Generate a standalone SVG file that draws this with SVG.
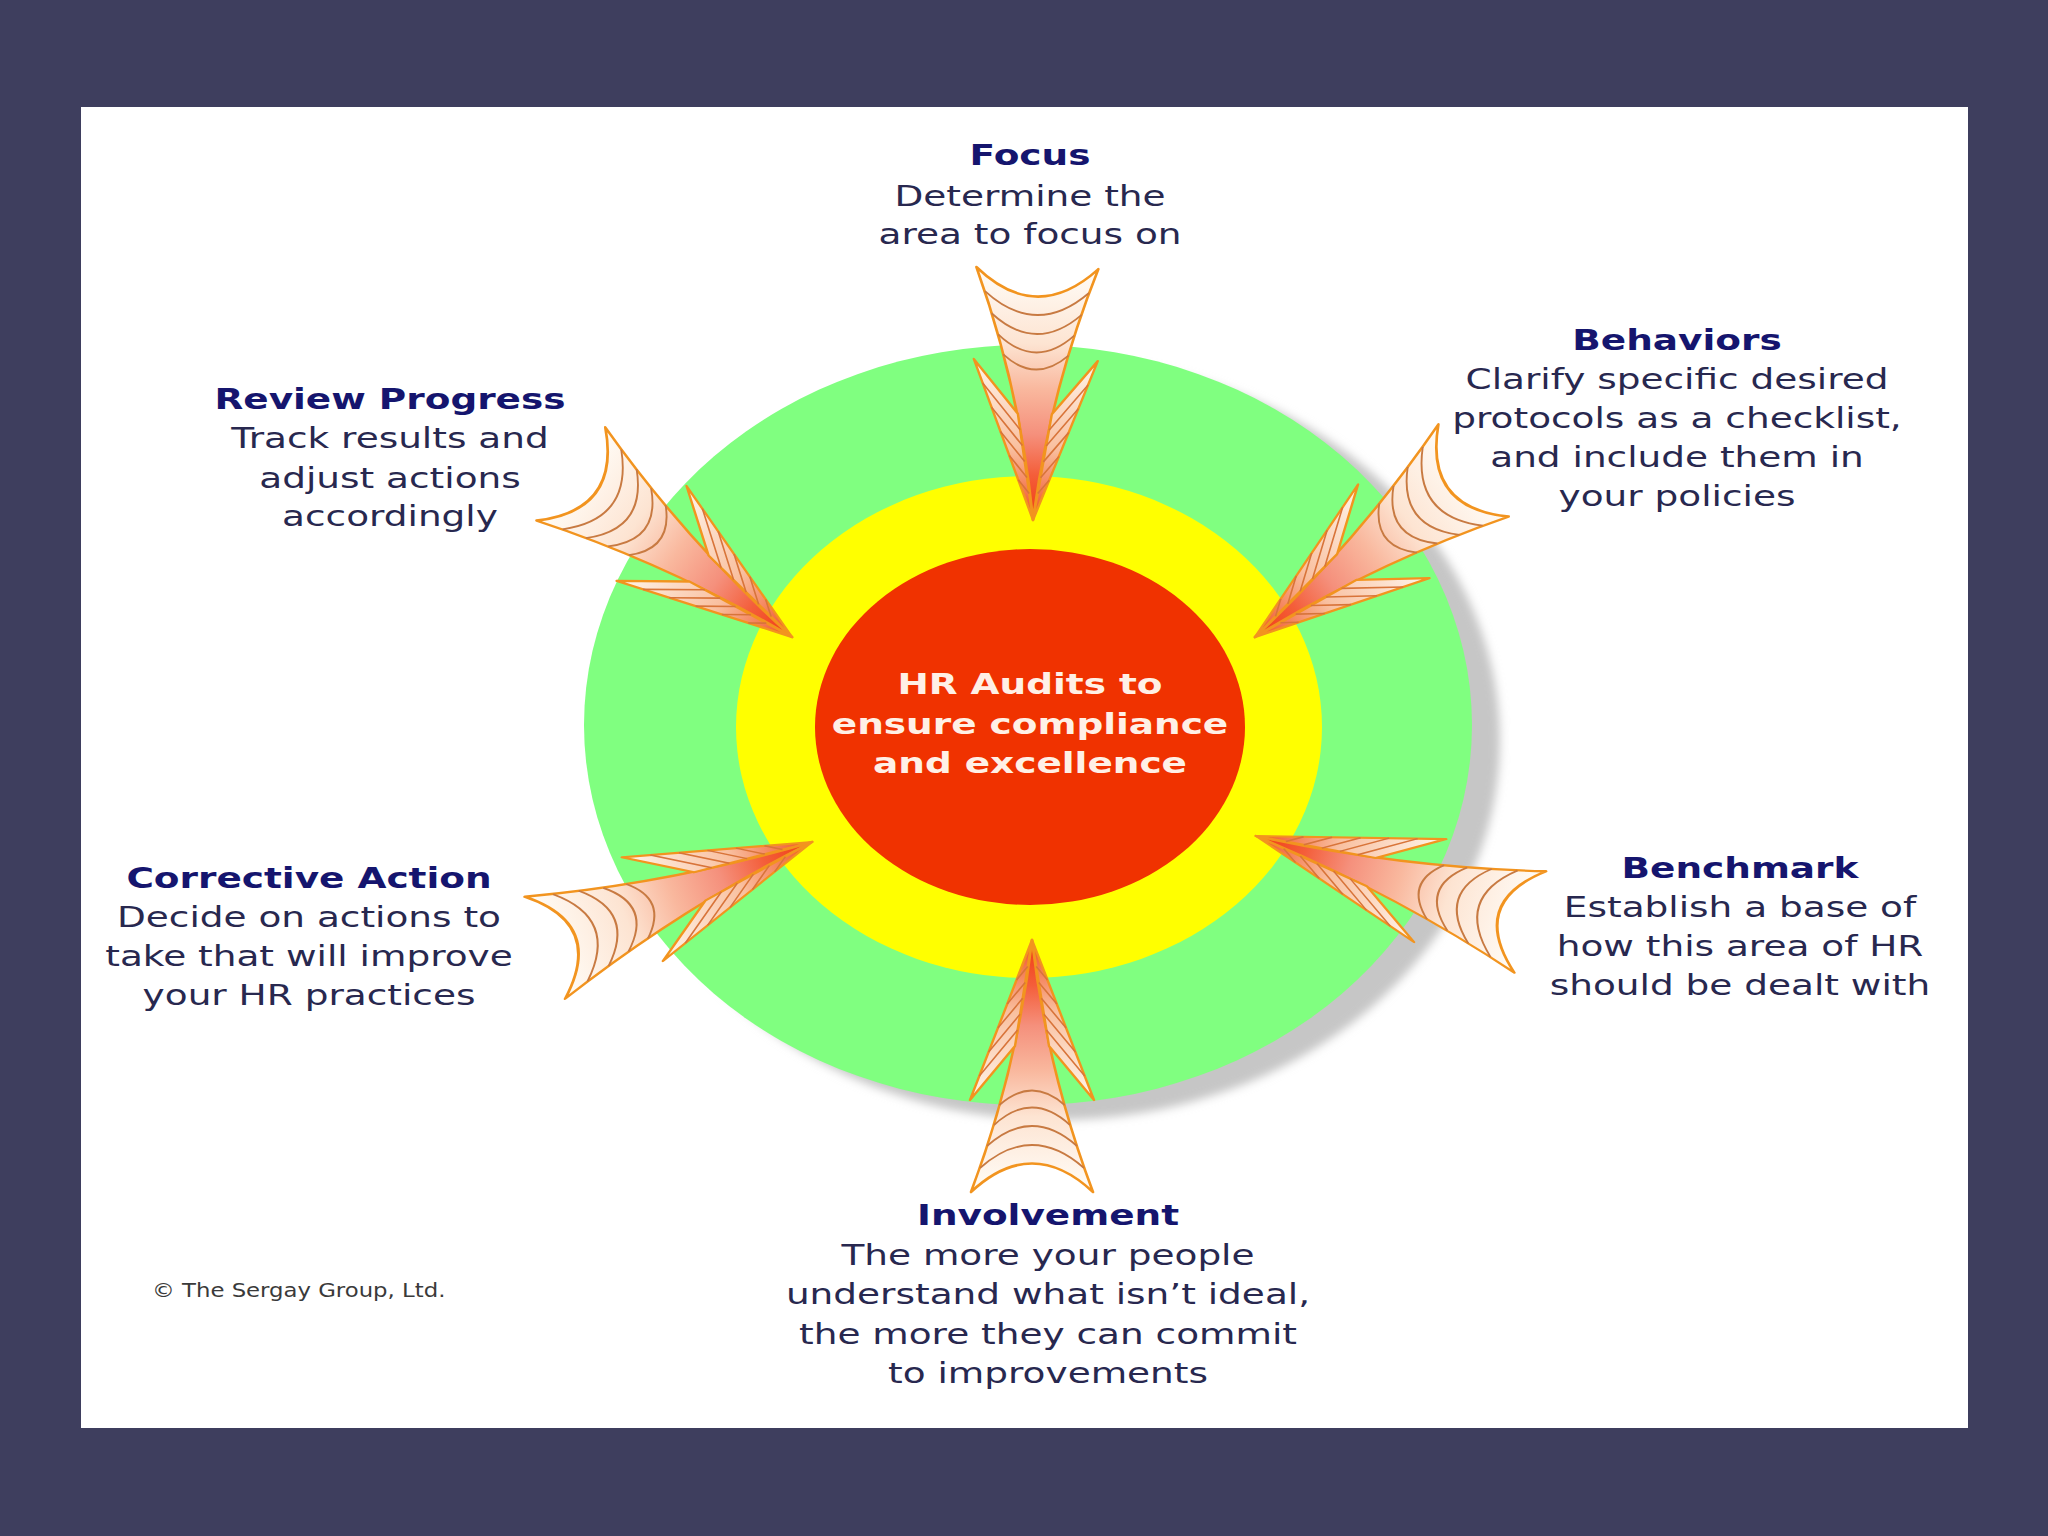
<svg xmlns="http://www.w3.org/2000/svg" xmlns:xlink="http://www.w3.org/1999/xlink" width="2048" height="1536" viewBox="0 0 2048 1536">
<style>
.t{font-family:"DejaVu Sans","Liberation Sans",sans-serif;font-size:29px;text-anchor:middle}
.h{font-weight:bold;fill:#15156e}
.b{fill:#28284f}
.c{font-weight:bold;fill:#fff0e6}
.cone{fill:url(#coneGrad);stroke:#f2941f;stroke-width:2.6;stroke-linejoin:round}
.wing{fill:url(#wingGrad);stroke:#f2941f;stroke-width:2.4;stroke-linejoin:round}
.arc{fill:none;stroke:#c87a42;stroke-width:1.8}
.stripe{fill:none;stroke:#d8743a;stroke-width:1.6}
</style>
<defs>
<filter id="blur" x="-10%" y="-10%" width="120%" height="120%"><feGaussianBlur stdDeviation="5"/></filter>
<linearGradient id="coneGrad" gradientUnits="userSpaceOnUse" x1="0" y1="-252" x2="0" y2="0">
<stop offset="0" stop-color="#fffdf8"/>
<stop offset="0.3" stop-color="#fde4d2"/>
<stop offset="0.48" stop-color="#f9b89e"/>
<stop offset="0.66" stop-color="#f5907c"/>
<stop offset="0.82" stop-color="#f45e3a"/>
<stop offset="1" stop-color="#f03a10"/>
</linearGradient>
<linearGradient id="wingGrad" gradientUnits="userSpaceOnUse" x1="0" y1="-160" x2="0" y2="0">
<stop offset="0" stop-color="#fff6ec"/>
<stop offset="0.55" stop-color="#f9c0a0"/>
<stop offset="1" stop-color="#f04a1c"/>
</linearGradient>
<g id="arrow">
<path class="cone" d="M0,0 Q-15,-130 -61,-252 Q0,-195 61,-252 Q15,-130 0,0 Z"/>
<path class="arc" d="M-52,-228 Q0,-182 52,-228 M-45,-206 Q0,-166 45,-206 M-38,-185 Q0,-150 38,-185 M-32.6,-165 Q0,-136 32.6,-165"/>
<path class="wing" d="M0,0 L-62,-160 L-17,-106 Z"/>
<path class="wing" d="M0,0 L62,-160 L17,-106 Z"/>
<path class="stripe" d="M-52.7,-136 L-14.45,-90.1 M-43.4,-112 L-11.9,-74.2 M-34.1,-88 L-9.35,-58.3 M-24.8,-64 L-6.8,-42.4 M-15.5,-40 L-4.25,-26.5 M52.7,-136 L14.45,-90.1 M43.4,-112 L11.9,-74.2 M34.1,-88 L9.35,-58.3 M24.8,-64 L6.8,-42.4 M15.5,-40 L4.25,-26.5"/>
</g>
</defs>
<rect x="0" y="0" width="2048" height="1536" fill="#3e3e5e"/>
<rect x="81" y="107" width="1887" height="1321" fill="#ffffff"/>

<g id="rings">
<ellipse cx="1056" cy="740" rx="444" ry="380" fill="#c6c6c6" filter="url(#blur)"/>
<ellipse cx="1028" cy="725" rx="444" ry="380" fill="#80ff80"/>
<ellipse cx="1029" cy="727" rx="293" ry="251" fill="#ffff00"/>
<ellipse cx="1030" cy="727" rx="215" ry="178" fill="#f03200"/>
</g>

<g id="center">
<text class="t c" transform="translate(1030,0) scale(1.29,1)"><tspan x="0" y="694">HR Audits to</tspan><tspan x="0" y="734">ensure compliance</tspan><tspan x="0" y="773">and excellence</tspan></text>
</g>

<g id="connectors">
<use href="#arrow" transform="translate(1033,520) rotate(1)"/>
<use href="#arrow" transform="translate(792,637) rotate(-53.6) scale(0.95,1.09)"/>
<use href="#arrow" transform="translate(1255,637) rotate(52.7) scale(0.95,1.09)"/>
<use href="#arrow" transform="translate(812,842) rotate(-111.6) scale(0.9,1.14)"/>
<use href="#arrow" transform="translate(1256,836) rotate(107.4) scale(0.87,1.14)"/>
<use href="#arrow" transform="translate(1032,940) rotate(180)"/>
</g>

<g id="focus">
<text class="t" transform="translate(1030,0) scale(1.29,1)"><tspan class="h" x="0" y="165">Focus</tspan><tspan class="b" x="0" y="206">Determine the</tspan><tspan class="b" x="0" y="244">area to focus on</tspan></text>
</g>
<g id="review-progress">
<text class="t" transform="translate(390,0) scale(1.29,1)"><tspan class="h" x="0" y="409">Review Progress</tspan><tspan class="b" x="0" y="448">Track results and</tspan><tspan class="b" x="0" y="488">adjust actions</tspan><tspan class="b" x="0" y="526">accordingly</tspan></text>
</g>
<g id="behaviors">
<text class="t" transform="translate(1677,0) scale(1.29,1)"><tspan class="h" x="0" y="350">Behaviors</tspan><tspan class="b" x="0" y="389">Clarify specific desired</tspan><tspan class="b" x="0" y="428">protocols as a checklist,</tspan><tspan class="b" x="0" y="467">and include them in</tspan><tspan class="b" x="0" y="506">your policies</tspan></text>
</g>
<g id="corrective-action">
<text class="t" transform="translate(309,0) scale(1.29,1)"><tspan class="h" x="0" y="888">Corrective Action</tspan><tspan class="b" x="0" y="927">Decide on actions to</tspan><tspan class="b" x="0" y="966">take that will improve</tspan><tspan class="b" x="0" y="1005">your HR practices</tspan></text>
</g>
<g id="benchmark">
<text class="t" transform="translate(1740,0) scale(1.29,1)"><tspan class="h" x="0" y="878">Benchmark</tspan><tspan class="b" x="0" y="917">Establish a base of</tspan><tspan class="b" x="0" y="956">how this area of HR</tspan><tspan class="b" x="0" y="995">should be dealt with</tspan></text>
</g>
<g id="involvement">
<text class="t" transform="translate(1048,0) scale(1.29,1)"><tspan class="h" x="0" y="1225">Involvement</tspan><tspan class="b" x="0" y="1265">The more your people</tspan><tspan class="b" x="0" y="1304">understand what isn’t ideal,</tspan><tspan class="b" x="0" y="1344">the more they can commit</tspan><tspan class="b" x="0" y="1383">to improvements</tspan></text>
</g>
<g id="copyright">
<text x="0" y="1297" transform="translate(152,0) scale(1.2,1)" font-family="DejaVu Sans, Liberation Sans, sans-serif" font-size="19" fill="#3a3a3a">© The Sergay Group, Ltd.</text>
</g>
</svg>
